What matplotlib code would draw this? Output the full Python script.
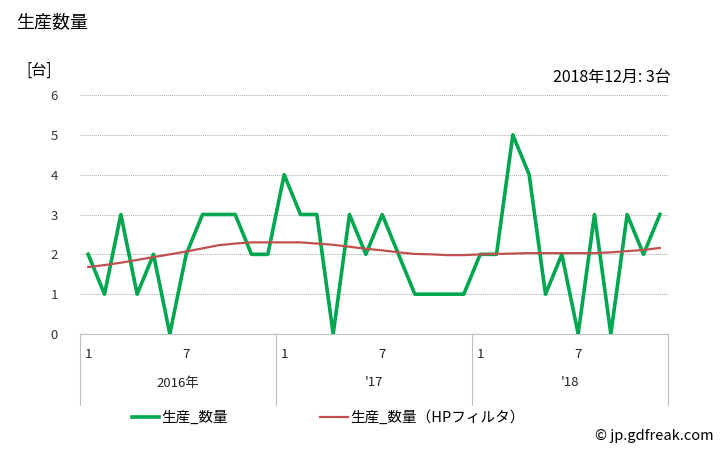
import matplotlib.pyplot as plt
import matplotlib.transforms as mtransforms

plt.rcParams['font.family'] = ['Noto Sans CJK JP', 'DejaVu Sans']

# 2016年1月 - 2018年12月
nen = ['2016年', "'17", "'18"]
tsuki = ['1', '7']
seisan = [2, 1, 3, 1, 2, 0, 2, 3, 3, 3, 2, 2,
          4, 3, 3, 0, 3, 2, 3, 2, 1, 1, 1, 1,
          2, 2, 5, 4, 1, 2, 0, 3, 0, 3, 2, 3]
hp = [1.68, 1.73, 1.79, 1.86, 1.93, 2.00, 2.07, 2.15, 2.23, 2.27, 2.30, 2.30,
      2.30, 2.30, 2.27, 2.24, 2.19, 2.14, 2.10, 2.05, 2.01, 2.00, 1.98, 1.98,
      2.00, 2.01, 2.02, 2.03, 2.03, 2.03, 2.03, 2.03, 2.05, 2.08, 2.11, 2.16]
yticks = [0, 1, 2, 3, 4, 5, 6]

verde = '#00A650'
rojo = '#C0504D'
gris = '#BFBFBF'

fig = plt.figure(figsize=(7.28, 4.5), dpi=100)
W, H = 728, 450
ax = fig.add_axes([80 / W, 1 - 334 / H, 588 / W, 239 / H])

x = list(range(len(seisan)))
ax.plot(x, seisan, color=verde, lw=2.6, label='生産_数量', zorder=3)
ax.plot(x, hp, color=rojo, lw=1.6, label='生産_数量（HPフィルタ）', zorder=4)

ax.set_xlim(-0.5, 35.5)
ax.set_ylim(0, 6)
ax.set_yticks(yticks)
ax.set_yticklabels([str(v) for v in yticks], fontsize=9.5, color='#333333')
ax.tick_params(axis='y', length=0, pad=16)
ax.set_xticks([])
for v in yticks[1:]:
    ax.axhline(v, color='#AAAAAA', lw=0.7, ls=(0, (1, 1)), zorder=1)
for s in ['top', 'right', 'left']:
    ax.spines[s].set_visible(False)
ax.spines['bottom'].set_color(gris)
ax.spines['bottom'].set_linewidth(0.8)

# eje de categorias (meses y años)
tr = mtransforms.blended_transform_factory(ax.transData, ax.transAxes)
abajo = -71 / 239
for i in range(4):
    xs = -0.5 + 12 * i
    ax.plot([xs, xs], [0, abajo], color=gris, lw=0.8, transform=tr, clip_on=False)
for i, n in enumerate(nen):
    ax.text(12 * i, -20 / 239, tsuki[0], transform=tr, fontsize=9.5,
            ha='center', va='center', color='#222222')
    ax.text(12 * i + 6, -20 / 239, tsuki[1], transform=tr, fontsize=9.5,
            ha='center', va='center', color='#222222')
    ax.text(12 * i + 5.5, -49 / 239, n, transform=tr, fontsize=9.5,
            ha='center', va='center', color='#222222')

fig.text(16 / W, 1 - 22 / H, '生産数量', fontsize=13, ha='left', va='center')
fig.text(26 / W, 1 - 70 / H, '[台]', fontsize=11, ha='left', va='center')
fig.text(671 / W, 1 - 78 / H, '2018年12月: 3台', fontsize=11.5, ha='right', va='center')

ax.legend(loc='center', bbox_to_anchor=(0.5 - 46 / 588, -84 / 239), ncol=2,
          frameon=False, fontsize=10.5, handlelength=1.9, handletextpad=0.15,
          columnspacing=6.3)
fig.text(714 / W, 1 - 436 / H, '© jp.gdfreak.com', fontsize=10.5, ha='right', va='center')

fig.savefig('out.png', dpi=100)
